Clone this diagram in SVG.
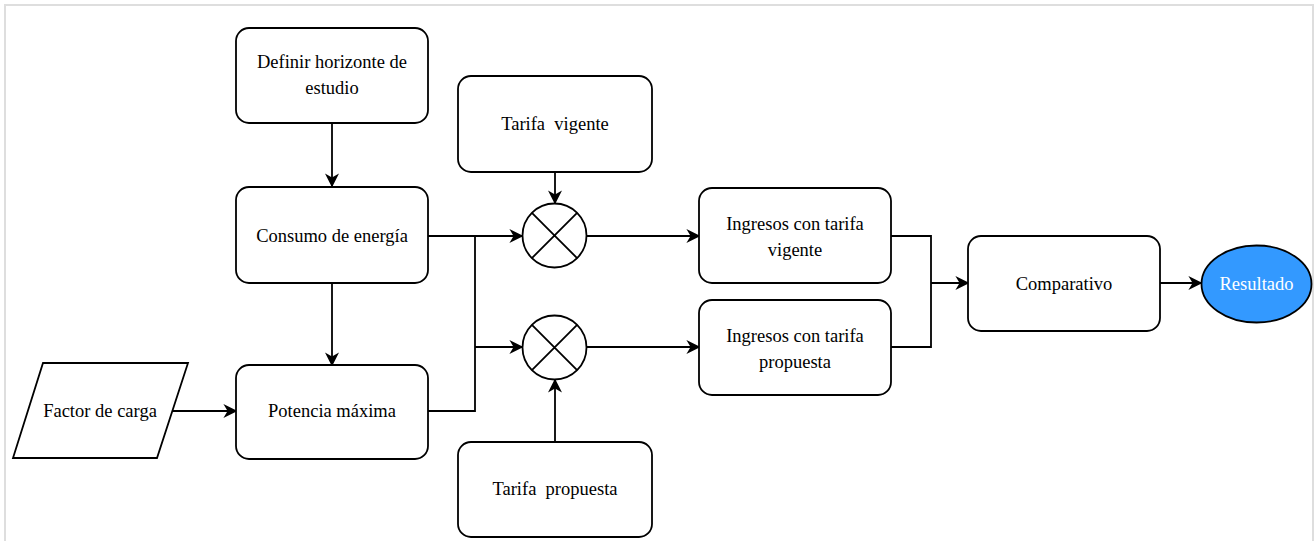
<svg xmlns="http://www.w3.org/2000/svg" width="1314" height="541" viewBox="0 0 1314 541">
<style>
.box{fill:#fff;stroke:#000;stroke-width:1.8}
.t{font-family:"Liberation Serif","Times New Roman","Tinos","DejaVu Serif",serif;font-size:18.5px;fill:#000;text-anchor:middle}
.c{fill:none;stroke:#000;stroke-width:1.8}
</style>
<defs>
<marker id="a" viewBox="0 0 10 10" refX="9" refY="5" markerWidth="14" markerHeight="14" markerUnits="userSpaceOnUse" orient="auto">
<path d="M0,0 L10,5 L0,10 L3,5 Z" fill="#000"/>
</marker>
</defs>
<rect x="0" y="0" width="1314" height="541" fill="#fff"/>
<path d="M5,541 V5 H1313 V541" fill="none" stroke="#dedede" stroke-width="2"/>
<g id="connectors" class="c">
<path d="M332,124 V186" marker-end="url(#a)"/>
<path d="M332,283 V365" marker-end="url(#a)"/>
<path d="M172,411 H236" marker-end="url(#a)"/>
<path d="M428,236 H522" marker-end="url(#a)"/>
<path d="M428,411 H475 V236"/>
<path d="M475,347 H522" marker-end="url(#a)"/>
<path d="M555,172 V203" marker-end="url(#a)"/>
<path d="M555,442 V380" marker-end="url(#a)"/>
<path d="M587,236 H699" marker-end="url(#a)"/>
<path d="M587,347 H699" marker-end="url(#a)"/>
<path d="M891,236 H931 V347 H891"/>
<path d="M931,283 H968" marker-end="url(#a)"/>
<path d="M1160,283 H1201" marker-end="url(#a)"/>
</g>
<g id="definir"><rect class="box" x="236" y="28" width="192" height="95" rx="13"/><text class="t" x="332" y="68">Definir horizonte de</text><text class="t" x="332" y="94">estudio</text></g>
<g id="consumo"><rect class="box" x="236" y="187" width="192" height="96" rx="13"/><text class="t" x="332" y="242">Consumo de energía</text></g>
<g id="potencia"><rect class="box" x="236" y="365" width="192" height="94" rx="13"/><text class="t" x="332" y="417">Potencia máxima</text></g>
<g id="factor"><polygon class="box" points="43,363 188,363 157,458 13,458"/><text class="t" x="100" y="417">Factor de carga</text></g>
<g id="tarifa-vigente"><rect class="box" x="458" y="76" width="194" height="96" rx="13"/><text class="t" x="555" y="130" xml:space="preserve">Tarifa  vigente</text></g>
<g id="tarifa-propuesta"><rect class="box" x="458" y="442" width="194" height="95" rx="13"/><text class="t" x="555" y="495" xml:space="preserve">Tarifa  propuesta</text></g>
<g id="mult1"><circle class="box" cx="554.5" cy="235.5" r="32"/><path class="c" d="M531.9,212.9 L577.1,258.1 M577.1,212.9 L531.9,258.1"/></g>
<g id="mult2"><circle class="box" cx="554.5" cy="347.5" r="32"/><path class="c" d="M531.9,324.9 L577.1,370.1 M577.1,324.9 L531.9,370.1"/></g>
<g id="ingresos-vigente"><rect class="box" x="699" y="188" width="192" height="95" rx="13"/><text class="t" x="795" y="230">Ingresos con tarifa</text><text class="t" x="795" y="256">vigente</text></g>
<g id="ingresos-propuesta"><rect class="box" x="699" y="300" width="192" height="95" rx="13"/><text class="t" x="795" y="342">Ingresos con tarifa</text><text class="t" x="795" y="368">propuesta</text></g>
<g id="comparativo"><rect class="box" x="968" y="236" width="192" height="95" rx="13"/><text class="t" x="1064" y="290">Comparativo</text></g>
<g id="resultado"><ellipse cx="1256.5" cy="284" rx="55" ry="38.5" fill="#3399ff" stroke="#000" stroke-width="1.8"/><text class="t" x="1256.5" y="290" style="fill:#fff">Resultado</text></g>
</svg>
